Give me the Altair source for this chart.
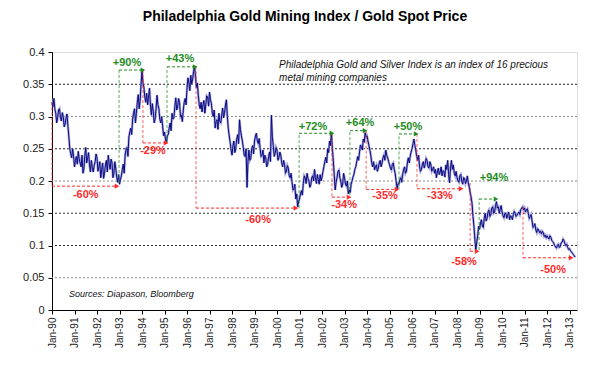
import altair as alt
import pandas as pd

# ---- ratio values (XAU / gold): start-of-month and mid-month ----
v1990 = [0.322, 0.328, 0.305, 0.298, 0.312, 0.293, 0.300, 0.288, 0.304, 0.268, 0.242, 0.250]
h1990 = [0.315, 0.312, 0.290, 0.310, 0.298, 0.306, 0.284, 0.298, 0.285, 0.250, 0.236, 0.238]
v1991 = [0.222, 0.238, 0.246, 0.228, 0.240, 0.218, 0.252, 0.236, 0.225, 0.232, 0.214, 0.230]
h1991 = [0.232, 0.226, 0.234, 0.222, 0.212, 0.240, 0.228, 0.244, 0.214, 0.220, 0.224, 0.242]
v1992 = [0.236, 0.222, 0.205, 0.228, 0.212, 0.232, 0.240, 0.218, 0.228, 0.212, 0.220, 0.198]
h1992 = [0.215, 0.230, 0.218, 0.204, 0.225, 0.214, 0.226, 0.234, 0.205, 0.230, 0.206, 0.210]
v1993 = [0.195, 0.208, 0.226, 0.240, 0.252, 0.268, 0.282, 0.296, 0.312, 0.305, 0.334, 0.325]
h1993 = [0.202, 0.218, 0.212, 0.250, 0.238, 0.276, 0.272, 0.305, 0.290, 0.322, 0.312, 0.350]
v1994 = [0.371, 0.345, 0.322, 0.318, 0.344, 0.302, 0.308, 0.296, 0.333, 0.312, 0.290, 0.285]
h1994 = [0.352, 0.330, 0.336, 0.330, 0.318, 0.320, 0.290, 0.312, 0.318, 0.296, 0.300, 0.270]
v1995 = [0.276, 0.260, 0.272, 0.290, 0.305, 0.298, 0.329, 0.315, 0.322, 0.302, 0.310, 0.328]
h1995 = [0.265, 0.270, 0.282, 0.278, 0.296, 0.315, 0.310, 0.328, 0.300, 0.292, 0.322, 0.318]
v1996 = [0.344, 0.352, 0.364, 0.358, 0.378, 0.345, 0.333, 0.312, 0.307, 0.325, 0.318, 0.330]
h1996 = [0.360, 0.340, 0.350, 0.370, 0.362, 0.352, 0.318, 0.322, 0.318, 0.305, 0.332, 0.316]
v1997 = [0.338, 0.320, 0.300, 0.282, 0.295, 0.305, 0.290, 0.313, 0.305, 0.326, 0.282, 0.260]
h1997 = [0.326, 0.305, 0.310, 0.292, 0.280, 0.292, 0.302, 0.298, 0.318, 0.300, 0.270, 0.248]
v1998 = [0.240, 0.262, 0.250, 0.272, 0.295, 0.270, 0.252, 0.238, 0.190, 0.248, 0.235, 0.255]
h1998 = [0.255, 0.244, 0.265, 0.258, 0.280, 0.262, 0.240, 0.250, 0.230, 0.232, 0.250, 0.242]
v1999 = [0.262, 0.274, 0.258, 0.250, 0.240, 0.228, 0.236, 0.226, 0.245, 0.302, 0.255, 0.243]
h1999 = [0.270, 0.262, 0.266, 0.238, 0.248, 0.240, 0.222, 0.238, 0.230, 0.268, 0.238, 0.252]
v2000 = [0.248, 0.236, 0.240, 0.222, 0.226, 0.215, 0.220, 0.205, 0.198, 0.188, 0.172, 0.160]
h2000 = [0.232, 0.245, 0.228, 0.232, 0.212, 0.224, 0.208, 0.212, 0.186, 0.195, 0.180, 0.168]
v2001 = [0.172, 0.185, 0.196, 0.205, 0.212, 0.200, 0.194, 0.208, 0.218, 0.196, 0.202, 0.210]
h2001 = [0.180, 0.178, 0.208, 0.196, 0.204, 0.190, 0.205, 0.200, 0.205, 0.210, 0.195, 0.200]
v2002 = [0.206, 0.222, 0.237, 0.250, 0.262, 0.275, 0.232, 0.186, 0.205, 0.217, 0.200, 0.195]
h2002 = [0.215, 0.230, 0.228, 0.244, 0.255, 0.250, 0.210, 0.198, 0.215, 0.205, 0.190, 0.212]
v2003 = [0.205, 0.192, 0.180, 0.182, 0.200, 0.210, 0.222, 0.238, 0.245, 0.252, 0.265, 0.275]
h2003 = [0.195, 0.200, 0.186, 0.195, 0.206, 0.218, 0.230, 0.232, 0.256, 0.248, 0.260, 0.268]
v2004 = [0.270, 0.255, 0.240, 0.222, 0.217, 0.225, 0.220, 0.232, 0.228, 0.240, 0.248, 0.236]
h2004 = [0.262, 0.248, 0.228, 0.230, 0.222, 0.215, 0.228, 0.222, 0.236, 0.232, 0.240, 0.230]
v2005 = [0.225, 0.217, 0.228, 0.212, 0.188, 0.195, 0.205, 0.210, 0.222, 0.215, 0.236, 0.238]
h2005 = [0.220, 0.226, 0.218, 0.200, 0.196, 0.202, 0.198, 0.218, 0.212, 0.228, 0.228, 0.245]
v2006 = [0.250, 0.265, 0.248, 0.232, 0.222, 0.218, 0.230, 0.226, 0.232, 0.220, 0.226, 0.218]
h2006 = [0.258, 0.255, 0.238, 0.240, 0.215, 0.226, 0.220, 0.235, 0.222, 0.230, 0.215, 0.222]
v2007 = [0.212, 0.205, 0.220, 0.214, 0.208, 0.215, 0.225, 0.232, 0.197, 0.232, 0.225, 0.208]
h2007 = [0.218, 0.214, 0.210, 0.222, 0.216, 0.206, 0.218, 0.210, 0.220, 0.218, 0.212, 0.215]
v2008 = [0.205, 0.198, 0.210, 0.195, 0.204, 0.200, 0.197, 0.182, 0.165, 0.130, 0.093, 0.115]
h2008 = [0.200, 0.208, 0.200, 0.205, 0.196, 0.208, 0.190, 0.175, 0.145, 0.110, 0.105, 0.130]
v2009 = [0.125, 0.140, 0.128, 0.150, 0.142, 0.155, 0.148, 0.160, 0.152, 0.168, 0.160, 0.156]
h2009 = [0.135, 0.130, 0.142, 0.138, 0.152, 0.145, 0.158, 0.150, 0.162, 0.158, 0.150, 0.162]
v2010 = [0.152, 0.143, 0.150, 0.147, 0.140, 0.145, 0.148, 0.150, 0.147, 0.152, 0.156, 0.160]
h2010 = [0.146, 0.150, 0.142, 0.152, 0.146, 0.140, 0.153, 0.145, 0.150, 0.148, 0.158, 0.155]
v2011 = [0.158, 0.155, 0.150, 0.145, 0.138, 0.130, 0.124, 0.126, 0.120, 0.118, 0.120, 0.116]
h2011 = [0.152, 0.157, 0.142, 0.148, 0.128, 0.134, 0.120, 0.124, 0.122, 0.122, 0.114, 0.112]
v2012 = [0.115, 0.110, 0.113, 0.106, 0.100, 0.096, 0.102, 0.098, 0.105, 0.108, 0.100, 0.097]
h2012 = [0.112, 0.115, 0.108, 0.104, 0.098, 0.100, 0.097, 0.104, 0.110, 0.103, 0.102, 0.094]
v2013 = [0.095, 0.090, 0.086, 0.082]
h2013 = [0.092, 0.088, 0.084]

start_month = [v1990, v1991, v1992, v1993, v1994, v1995, v1996, v1997, v1998, v1999, v2000,
               v2001, v2002, v2003, v2004, v2005, v2006, v2007, v2008, v2009, v2010, v2011,
               v2012, v2013]
mid_month = [h1990, h1991, h1992, h1993, h1994, h1995, h1996, h1997, h1998, h1999, h2000,
             h2001, h2002, h2003, h2004, h2005, h2006, h2007, h2008, h2009, h2010, h2011,
             h2012, h2013]

# ---- annotation arrows ----
ann_kind = ["fall", "rise", "fall", "rise", "fall", "rise", "fall", "rise", "fall", "rise",
            "fall", "fall", "rise", "fall"]
ann_x1 = [1990.0, 1992.98, 1994.04, 1995.11, 1996.4, 2000.98, 2002.44, 2003.24, 2003.96,
          2005.42, 2006.22, 2008.58, 2008.98, 2010.93]
ann_ya = [0.322, 0.197, 0.372, 0.259, 0.378, 0.158, 0.274, 0.178, 0.278, 0.187, 0.273,
          0.197, 0.093, 0.160]
ann_yb = [0.192, 0.372, 0.259, 0.377, 0.158, 0.274, 0.175, 0.278, 0.187, 0.273, 0.188,
          0.091, 0.172, 0.081]
ann_x2 = [1992.89, 1994.04, 1995.07, 1996.36, 2000.84, 2002.44, 2003.2, 2003.91, 2005.33,
          2006.18, 2008.18, 2008.89, 2009.73, 2013.07]
ann_text = ["-60%", "+90%", "-29%", "+43%", "-60%", "+72%", "-34%", "+64%", "-35%", "+50%",
            "-33%", "-58%", "+94%", "-50%"]
ann_tx = [1991.5, 1993.33, 1994.49, 1995.69, 1999.16, 2001.6, 2002.98, 2003.69, 2004.8,
          2005.82, 2007.24, 2008.31, 2009.64, 2012.27]
ann_ty = [0.179, 0.383, 0.246, 0.389, 0.140, 0.284, 0.163, 0.290, 0.177, 0.284, 0.177,
          0.074, 0.205, 0.062]

grid_vals = [0.05, 0.1, 0.15, 0.2, 0.25, 0.3, 0.35]
grid_cols = ["#8a8a8a", "#333333", "#333333", "#8a8a8a", "#222222", "#8a8a8a", "#222222"]

y_ticks = [0, 0.05, 0.1, 0.15, 0.2, 0.25, 0.3, 0.35, 0.4]
x_ticks = list(range(1990, 2014))

title_text = "Philadelphia Gold Mining Index / Gold Spot Price"
note_lines = ["Philadelphia Gold and Silver Index is an index of 16 precious",
              "metal mining companies"]
note_x = [2000.09, 2000.09]
note_y = [0.380, 0.359]
source_text = "Sources: Diapason, Bloomberg"

FONT = "Liberation Sans"
GREEN = "#1e8c1e"
RED = "#ff2a2a"

rows = []
for i, (vals, mids) in enumerate(zip(start_month, mid_month)):
    for m, v in enumerate(vals):
        rows.append({"t": 1990 + i + m / 12.0, "v": v})
    for m, v in enumerate(mids):
        rows.append({"t": 1990 + i + (m + 0.5) / 12.0, "v": v})
df = pd.DataFrame(rows).sort_values("t").reset_index(drop=True)

ann = pd.DataFrame({"kind": ann_kind, "x1": ann_x1, "ya": ann_ya, "yb": ann_yb,
                    "x2": ann_x2, "text": ann_text, "tx": ann_tx, "ty": ann_ty})
grid = pd.DataFrame({"g": grid_vals, "c": grid_cols})
notes = pd.DataFrame({"x": note_x, "y": note_y, "s": note_lines})
src = pd.DataFrame({"x": [1990.76], "y": [0.025], "s": [source_text]})
ttl = pd.DataFrame({"s": [title_text]})

xs = alt.Scale(domain=[1990, 2013.33], nice=False, zero=False)
ys = alt.Scale(domain=[0, 0.4], nice=False)
col = alt.Scale(domain=["rise", "fall"], range=[GREEN, RED])

x_axis = alt.Axis(values=x_ticks, format="d", labelExpr="'Jan-' + slice(datum.label, 2)",
                  labelAngle=270, labelAlign="right", labelBaseline="middle",
                  labelOverlap=False, labelFont=FONT, labelFontSize=10, labelColor="#222",
                  labelPadding=3, tickSize=4, tickColor="#000", domainColor="#000",
                  grid=False, title=None)
y_axis = alt.Axis(values=y_ticks, format="~g", labelFont=FONT, labelFontSize=11,
                  labelColor="#222", labelPadding=4, tickSize=4, tickColor="#000",
                  domainColor="#000", grid=False, title=None)

grid_layer = alt.Chart(grid).mark_rule(strokeDash=[2, 2], strokeWidth=1).encode(
    y=alt.Y("g:Q", scale=ys, axis=y_axis),
    color=alt.Color("c:N", scale=None),
)

halo = alt.Chart(df).mark_line(color="#a8a8dc", strokeWidth=2.4).encode(
    x=alt.X("t:Q", scale=xs, axis=x_axis),
    y=alt.Y("v:Q", scale=ys, axis=y_axis),
    order="t:Q",
)
line = alt.Chart(df).mark_line(color="#0a0a80", strokeWidth=1.0).encode(
    x=alt.X("t:Q", scale=xs, axis=x_axis),
    y=alt.Y("v:Q", scale=ys, axis=y_axis),
    order="t:Q",
)

vert = alt.Chart(ann).mark_rule(strokeDash=[3, 2], strokeWidth=1, opacity=0.75).encode(
    x=alt.X("x1:Q", scale=xs, axis=x_axis),
    y=alt.Y("ya:Q", scale=ys, axis=y_axis),
    y2="yb:Q",
    color=alt.Color("kind:N", scale=col, legend=None),
)
horiz = alt.Chart(ann).mark_rule(strokeDash=[3, 2], strokeWidth=1).encode(
    x=alt.X("x1:Q", scale=xs, axis=x_axis),
    x2="x2:Q",
    y=alt.Y("yb:Q", scale=ys, axis=y_axis),
    color=alt.Color("kind:N", scale=col, legend=None),
)
heads = alt.Chart(ann).mark_point(shape="triangle-right", filled=True, size=28, opacity=1).encode(
    x=alt.X("x2:Q", scale=xs, axis=x_axis),
    y=alt.Y("yb:Q", scale=ys, axis=y_axis),
    color=alt.Color("kind:N", scale=col, legend=None),
)
labels = alt.Chart(ann).mark_text(font=FONT, fontSize=11, fontWeight="bold",
                                  align="center", baseline="middle").encode(
    x=alt.X("tx:Q", scale=xs, axis=x_axis),
    y=alt.Y("ty:Q", scale=ys, axis=y_axis),
    text="text:N",
    color=alt.Color("kind:N", scale=col, legend=None),
)
note = alt.Chart(notes).mark_text(font=FONT, fontSize=10, fontStyle="italic", align="left",
                                  baseline="middle", color="#111").encode(
    x=alt.X("x:Q", scale=xs, axis=x_axis),
    y=alt.Y("y:Q", scale=ys, axis=y_axis),
    text="s:N",
)
source = alt.Chart(src).mark_text(font=FONT, fontSize=9, fontStyle="italic", align="left",
                                  baseline="middle", color="#111").encode(
    x=alt.X("x:Q", scale=xs, axis=x_axis),
    y=alt.Y("y:Q", scale=ys, axis=y_axis),
    text="s:N",
)
title = alt.Chart(ttl).mark_text(font=FONT, fontSize=14, fontWeight="bold", align="center",
                                 baseline="middle", color="#000").encode(
    x=alt.value(253),
    y=alt.value(-35),
    text="s:N",
)

chart = alt.layer(grid_layer, halo, line, vert, horiz, heads, labels, note, source, title).properties(
    width=525,
    height=258,
    padding={"left": 44, "top": 44, "right": 25, "bottom": 60},
    autosize=alt.AutoSizeParams(type="none"),
).configure_view(stroke="#888888", strokeWidth=1).configure_axis(
    labelOverlap=False
).configure(background="white")

chart.save("out.html", embed_options={"renderer": "svg", "actions": False})
